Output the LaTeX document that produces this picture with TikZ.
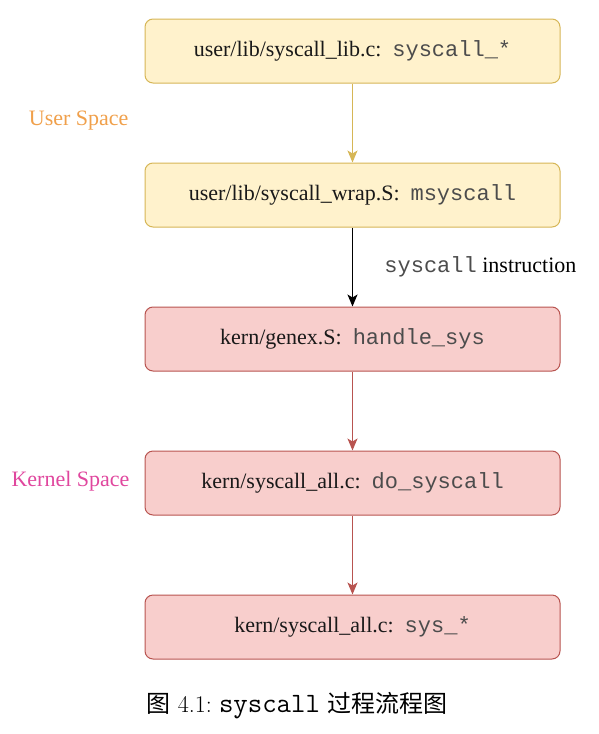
\documentclass[tikz,border=0pt]{standalone}
\usepackage{fontspec}
\newfontfamily\boxrm{Liberation Serif}
\newfontfamily\boxtt{Liberation Mono}
\newfontfamily\cjk{Noto Sans CJK SC}
\usetikzlibrary{arrows.meta}
\definecolor{userfill}{HTML}{FFF2CC}
\definecolor{userline}{HTML}{D6B656}
\definecolor{kernfill}{HTML}{F8CECC}
\definecolor{kernline}{HTML}{B85450}
\definecolor{userlabel}{HTML}{F0A04B}
\definecolor{kernlabel}{HTML}{E0479E}
\newcommand{\code}[1]{{\color{black!70}\boxtt #1}}
\begin{document}
\begin{tikzpicture}[x=1pt,y=-1pt,
    stage/.style={draw,rectangle,rounded corners=8pt,line width=1pt,minimum width=415pt,minimum height=64pt,
        font=\fontsize{22}{26}\selectfont\boxrm,text=black!90},
    userbox/.style={stage,fill=userfill,draw=userline},
    kernbox/.style={stage,fill=kernfill,draw=kernline},
    flow/.style={line width=1.2pt,-{Stealth[length=12pt,width=10pt,inset=3pt]}},
    side/.style={anchor=east,font=\fontsize{22}{26}\selectfont\boxrm}]
    \useasboundingbox (0,0) rectangle (599,734);
    %% User space
    \node[userbox] (lib) at (352.5,51) {user/lib/syscall\_lib.c:\ \ \code{syscall\_*}};
    \node[userbox] (wrap) at (352.5,195) {user/lib/syscall\_wrap.S:\ \ \code{msyscall}};
    %% Kernel space
    \node[kernbox] (genex) at (352.5,339) {kern/genex.S:\ \ \code{handle\_sys}};
    \node[kernbox] (doall) at (352.5,483) {kern/syscall\_all.c:\ \ \code{do\_syscall}};
    \node[kernbox] (sysall) at (352.5,627) {kern/syscall\_all.c:\ \ \code{sys\_*}};
    %% Side labels
    \node[side,text=userlabel] (ulabel) at (132,121) {User Space};
    \node[side,text=kernlabel] (klabel) at (133,481) {Kernel Space};
    %% Arrows
    \draw[flow,userline] (lib) -- (wrap);
    \draw[flow,black] (wrap) -- node[right=28pt,font=\fontsize{22}{26}\selectfont\boxrm] (trap) {\code{syscall} instruction} (genex);
    \draw[flow,kernline] (genex) -- (doall);
    \draw[flow,kernline] (doall) -- (sysall);
    %% Caption
    \node[anchor=west,font=\fontsize{24}{28}\selectfont] (cap) at (143,706)
        {{\cjk 图}\ 4.1:\ {\fontsize{28}{30}\selectfont\ttfamily syscall}\ {\cjk 过程流程图}};
\end{tikzpicture}
\end{document}
